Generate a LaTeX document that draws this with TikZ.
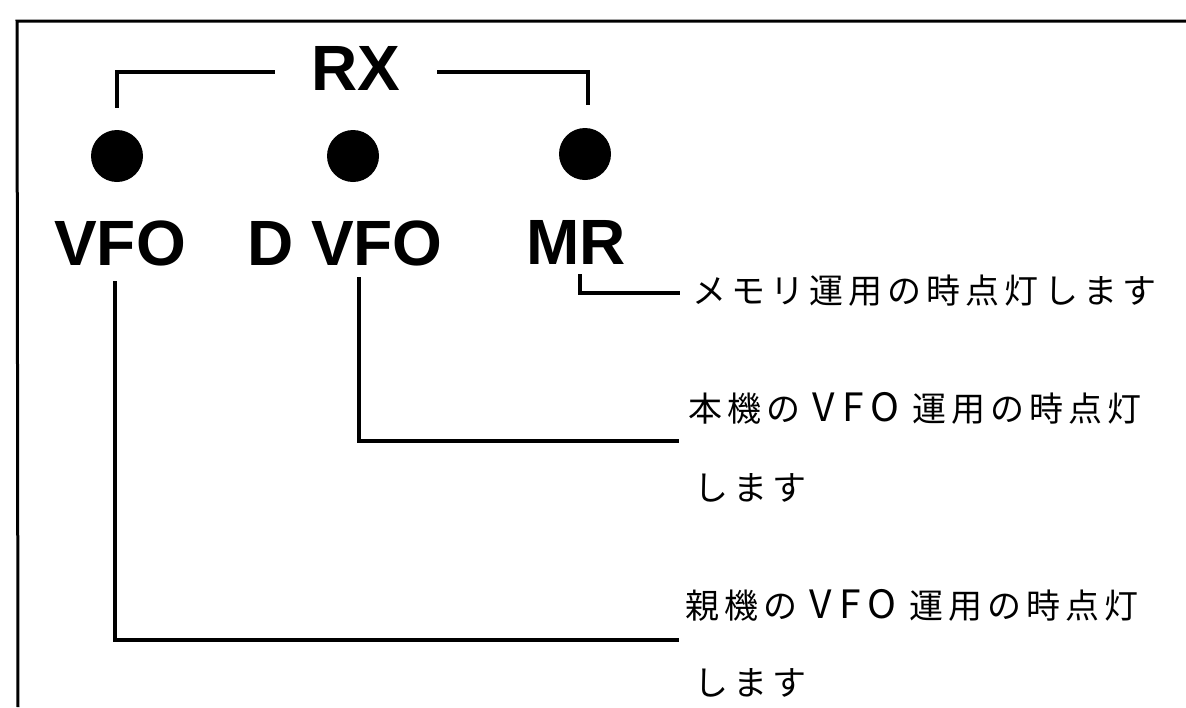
\documentclass[tikz,border=0pt]{standalone}
\usepackage{fontspec}
\setmainfont{Liberation Sans}
\newfontfamily\jp[LetterSpace=15]{Noto Sans CJK JP}
\newcommand{\vfosp}{\makebox[112pt]{\fontsize{39}{39}\selectfont V\kern7pt F\kern7pt O}}
\begin{document}
\begin{tikzpicture}[x=1pt,y=-1pt,
  lbl/.style={font=\bfseries\fontsize{64}{64}\selectfont, inner sep=0pt, anchor=base},
  jtxt/.style={font=\jp\fontsize{34}{34}\selectfont, inner sep=0pt, anchor=base west},
  lamp/.style={circle, fill=black, minimum size=52pt, inner sep=0pt},
  conn/.style={line width=3.2pt, line cap=rect},
  frame/.style={line width=3pt}]
\useasboundingbox (0,0) rectangle (1186,707);
% frame (top and left edges)
\coordinate (ftl) at (17,21);
\coordinate (ftr) at (1186,21);
\coordinate (fbl) at (18,707);
\draw[frame] (ftr) -- (ftl) -- (fbl);
% RX heading
\node[lbl, inner xsep=38pt] (rx) at (356,90) {RX};
% lamps
\node[lamp] (d1) at (117,156) {};
\node[lamp] (d2) at (353,156) {};
\node[lamp] (d3) at (585,154) {};
% bracket
\draw[conn] ([yshift=-4pt]rx.west) -| ([yshift=23pt]d1.north);
\draw[conn] ([yshift=-4pt]rx.east) -| ([xshift=3pt,yshift=24pt]d3.north);
% labels
\node[lbl] (vfo) at (120,265) {VFO};
\node[lbl] (dvfo) at (345,265) {D VFO};
\node[lbl] (mr) at (576,264) {MR};
% texts
\node[jtxt] (t1) at (692,303) {メモリ運用の時点灯します};
\node[jtxt] (t2) at (688,421) {本機の\vfosp 運用の時点灯};
\node[jtxt] (t3) at (694,500) {します};
\node[jtxt] (t4) at (685,618) {親機の\vfosp 運用の時点灯};
\node[jtxt] (t5) at (694,695) {します};
% connector ends
\coordinate (e1) at (678,293);
\coordinate (e2) at (677,441);
\coordinate (e3) at (677,640);
\draw[conn] ([xshift=4pt,yshift=-11pt]mr.south) |- (e1);
\draw[conn] ([xshift=14pt,yshift=-13pt]dvfo.south) |- (e2);
\draw[conn] ([xshift=-5pt,yshift=-17pt]vfo.south) |- (e3);
\end{tikzpicture}
\end{document}
